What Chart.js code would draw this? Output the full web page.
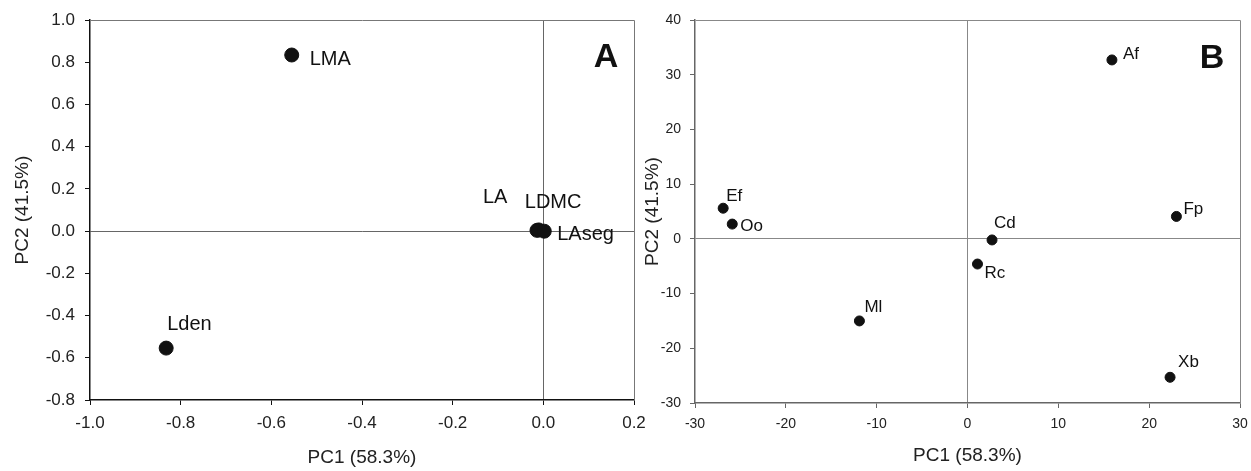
<!DOCTYPE html>
<html>
<head>
<meta charset="utf-8">
<script src="https://cdn.jsdelivr.net/npm/chart.js@4.4.1/dist/chart.umd.min.js"></script>
<style>
  html, body { margin: 0; padding: 0; background: #fff; }
  #wrap { position: relative; width: 1251px; height: 471px; }
  #wrap canvas { position: absolute; left: 0; top: 0; }
</style>
</head>
<body>
<div id="wrap">
  <canvas id="pcaTraits" width="1251" height="471"></canvas>
  <canvas id="pcaSpecies" width="1251" height="471"></canvas>
</div>
<script>
// Panel A - traits
const traitNames = ['LMA', 'Lden', 'LA', 'LDMC', 'LAseg'];
const traitPC1 = [-0.555, -0.832, -0.014, -0.010, 0.002];
const traitPC2 = [0.835, -0.554, 0.004, 0.006, 0.0];
const axisA = { xMin: -1.0, xMax: 0.2, xStep: 0.2, yMin: -0.8, yMax: 1.0, yStep: 0.2 };

// Panel B - species
const speciesNames = ['Af', 'Fp', 'Xb', 'Ef', 'Oo', 'Cd', 'Rc', 'Ml'];
const speciesPC1 = [15.9, 23.0, 22.3, -26.9, -25.9, 2.7, 1.1, -11.9];
const speciesPC2 = [32.7, 4.1, -25.3, 5.6, 2.7, -0.2, -4.6, -15.0];
const axisB = { xMin: -30, xMax: 30, xStep: 10, yMin: -30, yMax: 40, yStep: 10 };

const xTitle = 'PC1 (58.3%)';
const yTitle = 'PC2 (41.5%)';

// label offsets in px from each point (style, not data)
const traitLabelOffsets = [[18, 4], [1, -24], [-54, -33], [-14, -27], [13, 3]];
const speciesLabelOffsets = [[11, -6], [7, -7], [8, -15], [3, -12], [8, 2], [2, -17], [7, 9], [5, -14]];

const FONT = "'Liberation Sans', Arial, sans-serif";

const pointLabels = {
    id: 'pointLabels',
    afterDatasetsDraw(chart, args, opts) {
        const ctx = chart.ctx;
        const meta = chart.getDatasetMeta(0);
        const area = chart.chartArea;
        ctx.save();
        // frame (top + right)
        ctx.strokeStyle = opts.frameColor;
        ctx.lineWidth = 1;
        ctx.beginPath();
        ctx.moveTo(Math.round(area.left) + 0.5, Math.round(area.top) + 0.5);
        ctx.lineTo(Math.round(area.right) + 0.5, Math.round(area.top) + 0.5);
        ctx.lineTo(Math.round(area.right) + 0.5, Math.round(area.bottom) + 0.5);
        ctx.stroke();

        ctx.fillStyle = '#111';
        ctx.font = opts.fontSize + 'px ' + FONT;
        ctx.textAlign = 'left';
        ctx.textBaseline = 'middle';
        meta.data.forEach((pt, i) => {
            const off = opts.offsets[i];
            ctx.fillText(opts.names[i], pt.x + off[0], pt.y + off[1]);
        });

        ctx.font = 'bold ' + opts.letterSize + 'px ' + FONT;
        ctx.textAlign = 'center';
        ctx.fillText(opts.letter, area.right - 28, area.top + opts.letterDy);
        ctx.restore();
    }
};

function zeroGrid(color) {
    return (c) => (c.tick && Math.abs(c.tick.value) < 1e-9) ? color : 'rgba(0,0,0,0)';
}

function makeChart(id, cfg) {
    const ctx = document.getElementById(id).getContext('2d');
    const points = cfg.xs.map((x, i) => ({ x: x, y: cfg.ys[i] }));
    return new Chart(ctx, {
        type: 'scatter',
        data: {
            datasets: [{
                data: points,
                backgroundColor: '#111',
                borderColor: '#111',
                pointRadius: cfg.radius,
                pointHoverRadius: cfg.radius
            }]
        },
        options: {
            responsive: false,
            animation: false,
            devicePixelRatio: 1,
            layout: { padding: cfg.padding },
            plugins: {
                legend: { display: false },
                tooltip: { enabled: false },
                pointLabels: {
                    names: cfg.names,
                    offsets: cfg.offsets,
                    fontSize: cfg.labelSize,
                    letter: cfg.letter,
                    letterSize: 34,
                    letterDy: cfg.letterDy,
                    frameColor: cfg.frameColor
                }
            },
            scales: {
                x: {
                    type: 'linear',
                    min: cfg.axis.xMin,
                    max: cfg.axis.xMax,
                    afterFit: (s) => {
                        s.height = cfg.xAxisHeight;
                        // let the edge labels overhang instead of shrinking the plot
                        s.paddingLeft = 0;
                        s.paddingRight = 0;
                    },
                    ticks: {
                        stepSize: cfg.axis.xStep,
                        color: '#222',
                        font: { family: FONT, size: cfg.tickSize },
                        padding: 8,
                        maxRotation: 0,
                        callback: cfg.fmt
                    },
                    grid: {
                        color: zeroGrid(cfg.zeroColor),
                        tickColor: cfg.axisColor,
                        tickLength: 5,
                        lineWidth: 1
                    },
                    border: { color: cfg.axisColor, width: 1.5 },
                    title: {
                        display: true,
                        text: xTitle,
                        color: '#222',
                        font: { family: FONT, size: 19 },
                        padding: { top: 0, bottom: cfg.xTitlePad }
                    }
                },
                y: {
                    type: 'linear',
                    min: cfg.axis.yMin,
                    max: cfg.axis.yMax,
                    afterFit: (s) => { s.width = cfg.yAxisWidth; },
                    ticks: {
                        stepSize: cfg.axis.yStep,
                        color: '#222',
                        font: { family: FONT, size: cfg.tickSize },
                        padding: cfg.yTickPad,
                        callback: cfg.fmt
                    },
                    grid: {
                        color: zeroGrid(cfg.zeroColor),
                        tickColor: cfg.axisColor,
                        tickLength: 5,
                        lineWidth: 1
                    },
                    border: { color: cfg.axisColor, width: 1.5 },
                    title: {
                        display: true,
                        text: yTitle,
                        color: '#222',
                        font: { family: FONT, size: 19 },
                        padding: { top: cfg.yTitlePad, bottom: 0 }
                    }
                }
            }
        },
        plugins: [pointLabels]
    });
}

makeChart('pcaTraits', {
    xs: traitPC1, ys: traitPC2, names: traitNames, offsets: traitLabelOffsets,
    axis: axisA, radius: 7, labelSize: 20, tickSize: 17, letter: 'A', letterDy: 37,
    padding: { left: 0, right: 1251 - 634, top: 18, bottom: 0 },
    xAxisHeight: 71, yAxisWidth: 90, yTickPad: 10, xTitlePad: 2, yTitlePad: 11,
    axisColor: '#111', zeroColor: '#666', frameColor: '#777',
    fmt: (v) => (Math.abs(v) < 1e-9 ? 0 : v).toFixed(1)
});

makeChart('pcaSpecies', {
    xs: speciesPC1, ys: speciesPC2, names: speciesNames, offsets: speciesLabelOffsets,
    axis: axisB, radius: 5, labelSize: 17, tickSize: 14, letter: 'B', letterDy: 39,
    padding: { left: 632, right: 1251 - 1240, top: 20, bottom: 0 },
    xAxisHeight: 68, yAxisWidth: 63, yTickPad: 9, xTitlePad: 4, yTitlePad: 9,
    axisColor: '#666', zeroColor: '#888', frameColor: '#888',
    fmt: (v) => String(Math.round(v))
});
</script>
</body>
</html>
